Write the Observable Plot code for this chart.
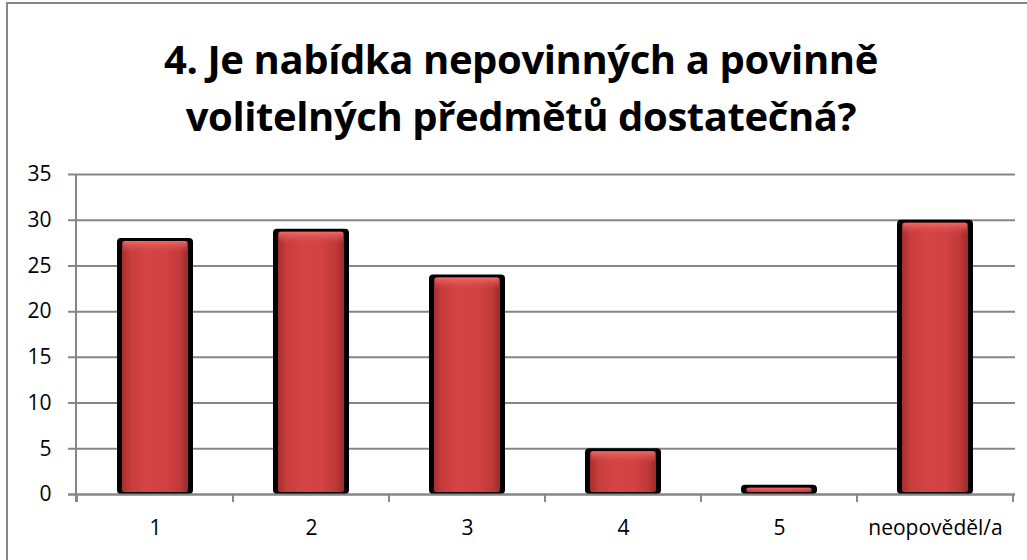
<!DOCTYPE html>
<html>
<head>
<meta charset="utf-8">
<script src="https://cdn.jsdelivr.net/npm/d3@7"></script>
<script src="https://cdn.jsdelivr.net/npm/@observablehq/plot@0.6"></script>
<style>
  html, body { margin: 0; padding: 0; background: #fff; overflow: hidden; }
  #wrap { position: relative; width: 1027px; height: 560px; overflow: hidden; background: #fff; }
  #frame { position: absolute; left: 6px; top: 2px; width: 1040px; height: 580px; border: 2px solid #868686; box-sizing: border-box; }
  #title { position: absolute; left: 0; top: 30px; width: 1042px; text-align: center;
    font-family: "Open Sans", sans-serif; font-weight: 700; font-size: 40px; line-height: 57px; color: #000; letter-spacing: -0.4px; }
  #chart { position: absolute; left: 0; top: 150px; }
  #chart svg text { font-family: "Open Sans", sans-serif; fill: #000; }
</style>
</head>
<body>
<div id="wrap">
  <div id="frame"></div>
  <div id="title">4. Je nabídka nepovinných a povinně<br>volitelných předmětů dostatečná?</div>
  <div id="chart"></div>
</div>
<script>
const titleLines = ["4. Je nabídka nepovinných a povinně", "volitelných předmětů dostatečná?"];
const categories = ["1", "2", "3", "4", "5", "neopověděl/a"];
const values = [28, 29, 24, 5, 1, 30];
const yTicks = [0, 5, 10, 15, 20, 25, 30, 35];

const data = categories.map((c, i) => ({category: c, value: values[i]}));

const gradientDefs = () => {
  const svg = d3.create("svg:defs");
  const g = svg.append("linearGradient").attr("id", "barGrad").attr("x1", "0").attr("x2", "1").attr("y1", "0").attr("y2", "0");
  [["0%", "#a52d2d"], ["12%", "#c63c3c"], ["35%", "#d54444"], ["65%", "#d34242"], ["88%", "#c03939"], ["100%", "#9b2a2a"]]
    .forEach(([o, c]) => g.append("stop").attr("offset", o).attr("stop-color", c));
  const h = svg.append("linearGradient").attr("id", "topGrad").attr("x1", "0").attr("x2", "0").attr("y1", "0").attr("y2", "1");
  [["0%", "#ee6a6a", 1], ["100%", "#d84646", 0]].forEach(([o, c, a]) => h.append("stop").attr("offset", o).attr("stop-color", c).attr("stop-opacity", a));
  return svg.node();
};

function boundaryTicks(index, scales, values, dims) {
  const x = scales.x;
  const n = categories.length;
  const step = x.step ? x.step() : (dims.width - dims.marginLeft - dims.marginRight) / n;
  const bw = x.bandwidth ? x.bandwidth() : step * 0.49;
  const y0 = scales.y(0);
  const g = d3.create("svg:g").attr("stroke", "#868686").attr("stroke-width", 2);
  const xs = categories.map(c => x(c) + bw / 2 - step / 2);
  xs.push(x(categories[n - 1]) + bw / 2 + step / 2);
  xs.forEach(px => g.append("line").attr("x1", px).attr("x2", px).attr("y1", y0).attr("y2", y0 + 8));
  return g.node();
}

function topHighlight(index, scales, values, dims) {
  const x = scales.x;
  const bw = x.bandwidth();
  const g = d3.create("svg:g");
  data.forEach(d => {
    const top = scales.y(d.value);
    const h = Math.min(12, scales.y(0) - top - 4);
    if (h > 1) g.append("rect").attr("x", x(d.category) + 6).attr("y", top + 3).attr("width", bw - 12).attr("height", h)
      .attr("fill", "url(#topGrad)").attr("rx", 2);
  });
  return g.node();
}

function axisLine(index, scales, values, dims) {
  const px = dims.marginLeft;
  return d3.create("svg:line").attr("x1", px).attr("x2", px).attr("y1", scales.y(35)).attr("y2", scales.y(0) + 8)
    .attr("stroke", "#868686").attr("stroke-width", 2).node();
}

const chart = Plot.plot({
  width: 1027,
  height: 410,
  marginTop: 24,
  marginBottom: 66,
  marginLeft: 76,
  marginRight: 12,
  style: {fontFamily: "'Open Sans', sans-serif", fontSize: "20px", color: "#000", background: "transparent"},
  x: {domain: categories, paddingInner: 0.51, paddingOuter: 0.255, label: null},
  y: {domain: [0, 35], label: null},
  marks: [
    gradientDefs,
    Plot.gridY(yTicks, {stroke: "#868686", strokeOpacity: 1, strokeWidth: 2, insetLeft: -8}),
    Plot.axisY(yTicks, {tickSize: 0, tickPadding: 25, fontSize: 21, label: null}),
    Plot.axisX({tickSize: 0, tickPadding: 26, fontSize: 21, label: null}),
    Plot.barY(data, {x: "category", y: "value", fill: "#000", rx: 4}),
    Plot.barY(data, {x: "category", y: "value", fill: "url(#barGrad)", insetLeft: 5, insetRight: 5, insetTop: 3, insetBottom: 2, rx: 2}),
    topHighlight,
    Plot.ruleY([0], {stroke: "#868686", strokeWidth: 2, insetLeft: -8}),
    boundaryTicks,
    axisLine
  ]
});
document.getElementById("chart").appendChild(chart);
</script>
</body>
</html>
